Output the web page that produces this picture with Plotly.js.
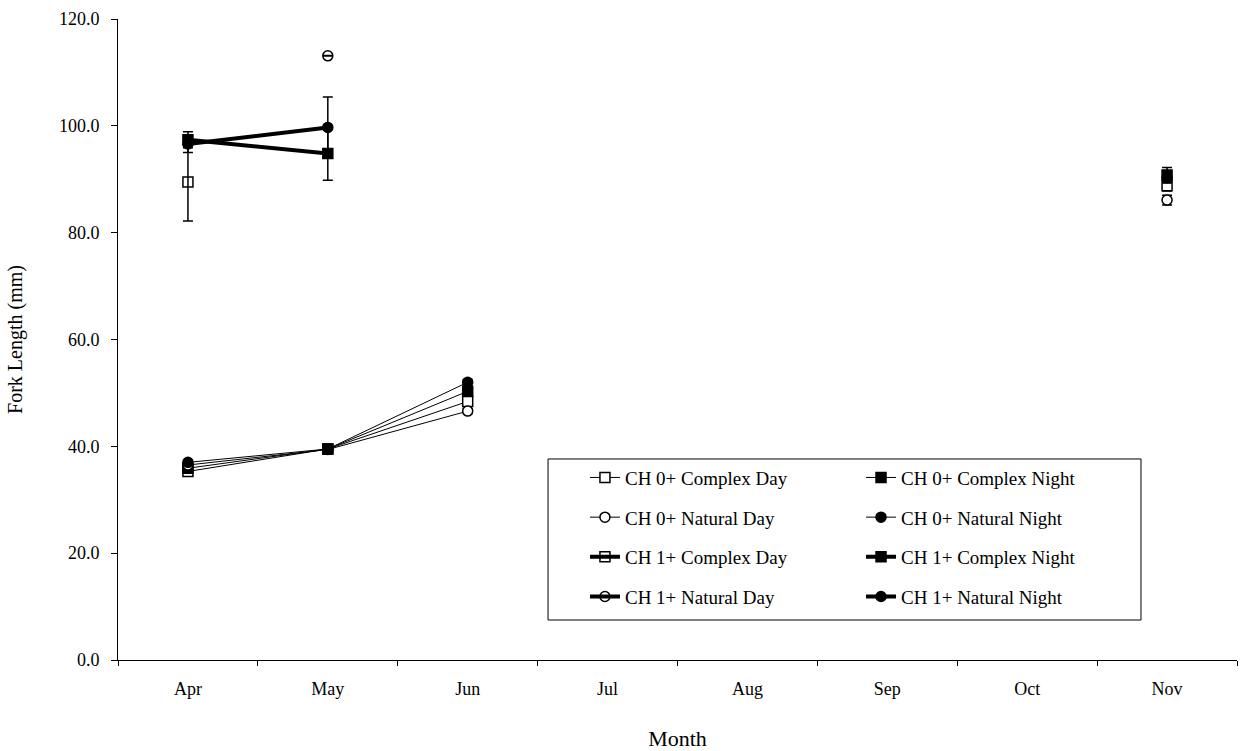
<!DOCTYPE html>
<html>
<head>
<meta charset="utf-8">
<script src="https://cdn.plot.ly/plotly-3.0.1.min.js"></script>
<style>
  html, body { margin: 0; padding: 0; background: #fff; }
  #chart { width: 1254px; height: 751px; }
</style>
</head>
<body>
<div id="chart"></div>
<script>
// Categories
const months = ['Apr', 'May', 'Jun', 'Jul', 'Aug', 'Sep', 'Oct', 'Nov'];

// CH 0+ series (mean fork length, mm) and error values
const ch0ComplexDay      = [35.3, 39.5, 48.4, null, null, null, null, 88.8];
const ch0ComplexDayErr   = [0.4, 0.4, 0.5, null, null, null, null, 1.0];
const ch0ComplexNight    = [35.9, 39.5, 50.3, null, null, null, null, 90.8];
const ch0ComplexNightErr = [0.4, 0.4, 0.5, null, null, null, null, 1.4];
const ch0NaturalDay      = [36.5, 39.4, 46.6, null, null, null, null, 86.1];
const ch0NaturalDayErr   = [0.4, 0.4, 0.5, null, null, null, null, 0.9];
const ch0NaturalNight    = [37.0, 39.5, 52.0, null, null, null, null, 90.3];
const ch0NaturalNightErr = [0.4, 0.4, 0.5, null, null, null, null, 1.0];

// CH 1+ series
const ch1ComplexDay      = [89.5, null, null, null, null, null, null, null];
const ch1ComplexDayErr   = [7.3, null, null, null, null, null, null, null];
const ch1ComplexNight    = [97.4, 94.8, null, null, null, null, null, null];
const ch1ComplexNightErr = [1.5, 5.0, null, null, null, null, null, null];
const ch1NaturalDay      = [null, 113.1, null, null, null, null, null, null];
const ch1NaturalDayErr   = [null, 0.05, null, null, null, null, null, null];
const ch1NaturalNight    = [96.6, 99.7, null, null, null, null, null, null];
const ch1NaturalNightErr = [1.6, 5.7, null, null, null, null, null, null];

// Y axis ticks
const yTicks = [0, 20, 40, 60, 80, 100, 120];

const FONT = 'Liberation Serif, Times New Roman, serif';

function series(name, y, err, opts) {
  return {
    type: 'scatter',
    mode: 'lines+markers',
    name: name,
    x: months,
    y: y,
    legend: opts.legend,
    legendgroup: name,
    connectgaps: false,
    line: { color: '#000', width: opts.lw },
    marker: {
      symbol: opts.symbol,
      size: 10,
      color: opts.fill,
      line: { color: '#000', width: 1.5 }
    },
    error_y: {
      type: 'data', array: err, visible: true,
      color: '#000', thickness: 1.5, width: 5
    },
    hoverinfo: 'skip'
  };
}

const thin = 1, thick = 4;
const data = [
  series('CH 0+ Complex Day',   ch0ComplexDay,   ch0ComplexDayErr,   {legend: 'legend',  lw: thin,  symbol: 'square', fill: '#fff'}),
  series('CH 0+ Complex Night', ch0ComplexNight, ch0ComplexNightErr, {legend: 'legend2', lw: thin,  symbol: 'square', fill: '#000'}),
  series('CH 0+ Natural Day',   ch0NaturalDay,   ch0NaturalDayErr,   {legend: 'legend',  lw: thin,  symbol: 'circle', fill: '#fff'}),
  series('CH 0+ Natural Night', ch0NaturalNight, ch0NaturalNightErr, {legend: 'legend2', lw: thin,  symbol: 'circle', fill: '#000'}),
  series('CH 1+ Complex Day',   ch1ComplexDay,   ch1ComplexDayErr,   {legend: 'legend',  lw: thick, symbol: 'square-open', fill: '#000'}),
  series('CH 1+ Complex Night', ch1ComplexNight, ch1ComplexNightErr, {legend: 'legend2', lw: thick, symbol: 'square', fill: '#000'}),
  series('CH 1+ Natural Day',   ch1NaturalDay,   ch1NaturalDayErr,   {legend: 'legend',  lw: thick, symbol: 'circle-open', fill: '#000'}),
  series('CH 1+ Natural Night', ch1NaturalNight, ch1NaturalNightErr, {legend: 'legend2', lw: thick, symbol: 'circle', fill: '#000'})
];

const legendCommon = {
  xanchor: 'left', yanchor: 'top',
  bgcolor: 'rgba(0,0,0,0)', borderwidth: 0,
  tracegroupgap: 12,
  font: { family: FONT, size: 19, color: '#000' },
  orientation: 'v'
};

const layout = {
  width: 1254, height: 751,
  margin: { l: 118, r: 17, t: 19, b: 91, pad: 0 },
  paper_bgcolor: '#fff', plot_bgcolor: '#fff',
  font: { family: FONT, color: '#000', size: 18 },
  showlegend: true,
  xaxis: {
    type: 'category',
    categoryarray: months, categoryorder: 'array',
    range: [-0.5, 7.5],
    tickson: 'boundaries',
    ticks: 'outside', ticklen: 5, tickwidth: 1, tickcolor: '#000',
    ticklabelstandoff: 12,
    showline: true, linecolor: '#000', linewidth: 1,
    showgrid: false, zeroline: false,
    tickfont: { family: FONT, size: 18, color: '#000' },
    title: { text: 'Month', font: { family: FONT, size: 22, color: '#000' }, standoff: 33 },
    automargin: false, fixedrange: true
  },
  xaxis2: {
    overlaying: 'x', anchor: 'y', side: 'bottom',
    range: [-0.5, 7.5],
    tickmode: 'linear', tick0: -0.5, dtick: 1,
    ticks: 'inside', ticklen: 4, tickwidth: 1, tickcolor: '#000',
    showticklabels: false, showline: false, showgrid: false, zeroline: false,
    automargin: false, fixedrange: true
  },
  yaxis: {
    range: [0, 120],
    tickvals: yTicks, tickformat: '.1f',
    ticks: 'outside', ticklen: 6, tickwidth: 1, tickcolor: '#000',
    ticklabelstandoff: 8,
    showline: true, linecolor: '#000', linewidth: 1,
    showgrid: false, zeroline: false,
    tickfont: { family: FONT, size: 18, color: '#000' },
    title: { text: 'Fork Length (mm)', font: { family: FONT, size: 20, color: '#000' }, standoff: 30 },
    automargin: false, fixedrange: true
  },
  legend:  Object.assign({ x: 0.4173, y: 0.3142 }, legendCommon),
  legend2: Object.assign({ x: 0.6640, y: 0.3142 }, legendCommon),
  shapes: [{
    type: 'rect', xref: 'paper', yref: 'paper',
    x0: 0.3843, x1: 0.9142, y0: 0.0624, y1: 0.3136,
    line: { color: '#000', width: 1 }, fillcolor: 'rgba(0,0,0,0)', layer: 'below'
  }]
};

Plotly.newPlot('chart', data, layout, { staticPlot: true, displayModeBar: false });
</script>
</body>
</html>
